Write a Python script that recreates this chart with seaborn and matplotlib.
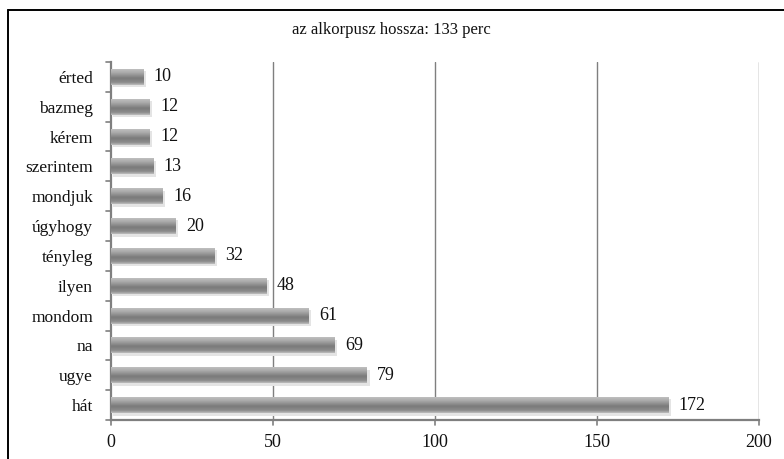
import numpy as np
import pandas as pd
import matplotlib
matplotlib.use("Agg")
import matplotlib.pyplot as plt
import seaborn as sns
from matplotlib.colors import LinearSegmentedColormap
from matplotlib.lines import Line2D

words = ["érted", "bazmeg", "kérem", "szerintem", "mondjuk", "úgyhogy",
         "tényleg", "ilyen", "mondom", "na", "ugye", "hát"]
counts = [10, 12, 12, 13, 16, 20, 32, 48, 61, 69, 79, 172]
x_ticks = [0, 50, 100, 150, 200]
title = "az alkorpusz hossza: 133 perc"

df = pd.DataFrame({"word": words, "count": counts})

sns.set_theme(style="white")
plt.rcParams["font.family"] = ["Liberation Serif", "DejaVu Serif"]

fig = plt.figure(figsize=(7.84, 4.59), dpi=100)
ax = fig.add_axes([111 / 784, 39 / 459, 648 / 784, 358 / 459])

sns.barplot(data=df, y="word", x="count", orient="h", color="#909090",
            width=0.54, ax=ax, zorder=3)

ax.set_xlim(0, 200)
ax.set_xticks(x_ticks)
ax.set_xticklabels([str(t) for t in x_ticks], fontsize=13)
ax.set_xlabel("")
ax.set_ylabel("")
ax.tick_params(axis="y", labelsize=12.5, length=0, pad=13, labelcolor="#111111")
ax.tick_params(axis="x", length=0, pad=10, labelcolor="#111111")

# vertical gridlines
for t in x_ticks[1:]:
    ax.axvline(t, color="#7f7f7f", lw=1.0, zorder=1)

# spines
for s in ["top", "right"]:
    ax.spines[s].set_visible(False)
for s in ["left", "bottom"]:
    ax.spines[s].set_color("#7f7f7f")
    ax.spines[s].set_linewidth(1.6)

# tick marks: category boundaries on y, value ticks on x
n = len(words)
for b in np.arange(-0.5, n, 1.0):
    ax.add_line(Line2D([-0.008, 0], [b, b], transform=ax.get_yaxis_transform(),
                       color="#7f7f7f", lw=1.2, clip_on=False))
for t in x_ticks:
    ax.add_line(Line2D([t, t], [-0.015, 0], transform=ax.get_xaxis_transform(),
                       color="#7f7f7f", lw=1.2, clip_on=False))

# gradient fill on bars
cmap = LinearSegmentedColormap.from_list(
    "bargrad",
    [(0.0, "#c4c4c4"), (0.25, "#acacac"), (0.6, "#7a7a7a"),
     (0.85, "#8c8c8c"), (1.0, "#bdbdbd")])
grad = np.linspace(0, 1, 64).reshape(-1, 1)
for p in ax.patches:
    x0, y0 = p.get_x(), p.get_y()
    w, h = p.get_width(), p.get_height()
    # soft shadow
    ax.fill_between([x0 + 0.6, x0 + w + 0.8], y0 + h, y0 + h + 0.08,
                    color="#e4e4e4", zorder=2, lw=0)
    ax.fill_between([x0 + w, x0 + w + 0.8], y0 + 0.08, y0 + h,
                    color="#e4e4e4", zorder=2, lw=0)
    im = ax.imshow(grad, cmap=cmap, aspect="auto",
                   extent=[x0, x0 + w, y0 + h, y0], zorder=4,
                   interpolation="bilinear")
    im.set_clip_path(p)
    p.set_edgecolor("none")

ax.set_ylim(n - 0.5, -0.5)
ax.set_xlim(0, 200)

# value labels
for i, v in enumerate(counts):
    ax.text(v + 3.2, i, str(v), va="center", ha="left", fontsize=13,
            color="#111111", zorder=5)

fig.text(391 / 784, 1 - 30 / 459, title, ha="center", va="center",
         fontsize=12, family="Liberation Serif", color="#111111")

# outer frame (top and left visible)
fig.add_artist(Line2D([8 / 784, 1.0], [1 - 10 / 459, 1 - 10 / 459],
                      transform=fig.transFigure, color="black", lw=1.4))
fig.add_artist(Line2D([8 / 784, 8 / 784], [0, 1 - 10 / 459],
                      transform=fig.transFigure, color="black", lw=1.4))

fig.savefig("out.png", dpi=100, facecolor="white")
